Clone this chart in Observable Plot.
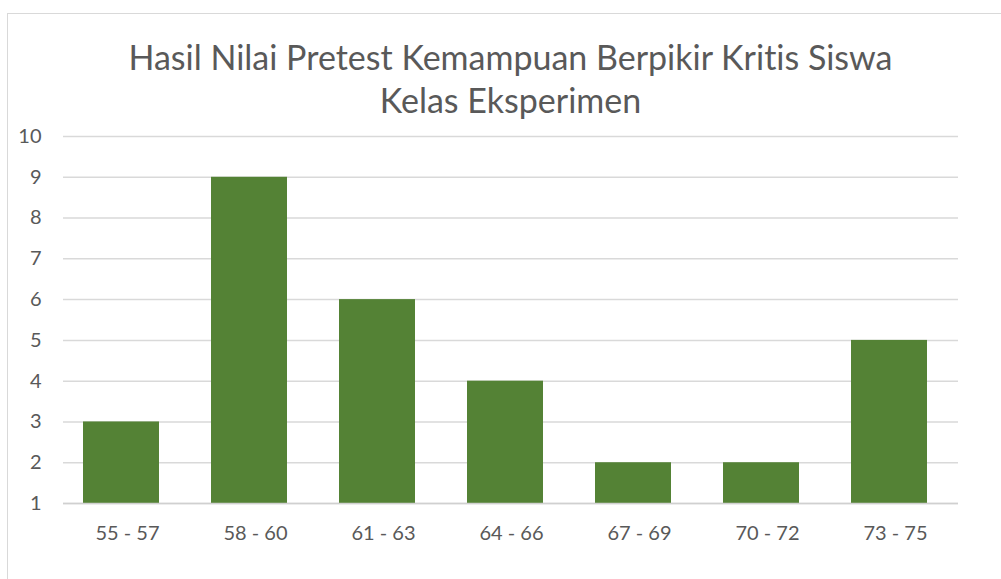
<!DOCTYPE html>
<html>
<head>
<meta charset="utf-8">
<script src="https://cdn.jsdelivr.net/npm/d3@7"></script>
<script src="https://cdn.jsdelivr.net/npm/@observablehq/plot@0.6"></script>
<style>
  html, body { margin: 0; padding: 0; background: #fff; }
  #wrap { position: relative; width: 1001px; height: 579px; overflow: hidden; font-family: Lato, "Open Sans", sans-serif; font-variant-ligatures: none; }
  #frame { position: absolute; left: 7px; top: 13px; width: 1100px; height: 700px; border: 1.5px solid #d9d9d9; box-sizing: border-box; }
  #title { position: absolute; left: 0; top: 35px; width: 1021px; text-align: center; color: #595959; font-size: 34px; line-height: 43px; font-variant-ligatures: none; }
  #chart { position: absolute; left: 0; top: 0; }
</style>
</head>
<body>
<div id="wrap">
  <div id="frame"></div>
  <div id="title">Hasil Nilai Pretest Kemampuan Berpikir Kritis Siswa<br>Kelas Eksperimen</div>
  <div id="chart"></div>
</div>
<script>
const categories = ["55 - 57", "58 - 60", "61 - 63", "64 - 66", "67 - 69", "70 - 72", "73 - 75"];
const counts = [3, 9, 6, 4, 2, 2, 5];
const yTicks = [1, 2, 3, 4, 5, 6, 7, 8, 9, 10];

const data = categories.map((c, i) => ({ range: c, count: counts[i] }));

const chart = Plot.plot({
  width: 1001,
  height: 579,
  marginLeft: 63,
  marginRight: 43,
  marginTop: 136,
  marginBottom: 76,
  style: { fontFamily: "Lato, 'Open Sans', sans-serif", fontSize: "20px", color: "#595959", background: "transparent", fontVariantLigatures: "none" },
  x: { domain: categories, paddingInner: 0.41, paddingOuter: 0.2, label: null, tickSize: 0, tickPadding: 22 },
  y: { domain: [1, 10], ticks: yTicks, label: null, tickSize: 0, tickPadding: 22 },
  marks: [
    Plot.gridY(yTicks, { stroke: "#d9d9d9", strokeOpacity: 1, strokeWidth: 1.5 }),
    Plot.barY(data, { x: "range", y1: () => 1, y2: "count", fill: "#548235", dx: -6 }),
    Plot.ruleY([1], { stroke: "#d0d0d0", strokeWidth: 1.5 })
  ]
});
document.getElementById("chart").appendChild(chart);
</script>
</body>
</html>
